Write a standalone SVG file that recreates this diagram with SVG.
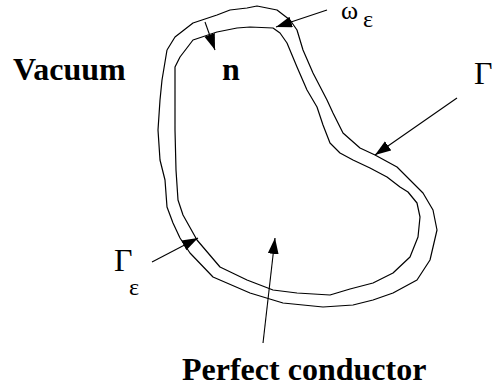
<svg xmlns="http://www.w3.org/2000/svg" width="492" height="388" viewBox="0 0 492 388">
<style>
.curve{fill:none;stroke:#000;stroke-width:1.2;stroke-linejoin:round}
.arr{fill:none;stroke:#000;stroke-width:1.1}
.b{font-family:"Liberation Serif","Times New Roman",serif;font-weight:bold;font-size:32px;fill:#000}
.r{font-family:"Liberation Serif","Times New Roman",serif;font-size:32px;fill:#000}
.s{font-family:"Liberation Serif","Times New Roman",serif;font-size:24px;fill:#000}
</style>
<defs>
<marker id="ah" markerUnits="userSpaceOnUse" markerWidth="17" markerHeight="12" refX="16" refY="5.5" orient="auto">
<path d="M0,0 L16,5.5 L0,11 z" fill="#000"/>
</marker>
</defs>
<rect width="492" height="388" fill="#fff"/>
<g id="body">
<polyline class="curve" points="167,50 162,80 160,100 158,130 160,160 165,180 167,207 173,223 180,238 190,253 213,277 250,293 283,303 323,307 353,305 373,300 393,293 417,280 430,260 437,230 433,210 423,193 410,180 397,167 375,155 360,148 343,133 333,113 327,100 313,73 303,50 297,30 290,20 277,10 257,6 247,8 230,10 217,15 193,23 175,37 167,50"/>
<polyline class="curve" points="175,100 175,67 180,57 193,40 217,32 237,28 250,27 273,28 280,33 287,43 297,67 307,90 317,107 323,125 330,143 340,153 353,160 370,168 387,177 400,187 408,192 417,203 420,217 418,237 410,257 393,273 373,283 350,289 330,295 297,293 273,290 247,280 220,267 197,240 183,215 178,200 176,170 175,130 175,100"/>
</g>
<g id="connectors">
<line class="arr" x1="205" y1="22" x2="215" y2="50" marker-end="url(#ah)"/>
<line class="arr" x1="327" y1="10" x2="276" y2="27" marker-end="url(#ah)"/>
<line class="arr" x1="457" y1="98" x2="375" y2="155" marker-end="url(#ah)"/>
<line class="arr" x1="152" y1="262" x2="198" y2="238" marker-end="url(#ah)"/>
<line class="arr" x1="263" y1="343" x2="275" y2="238" marker-end="url(#ah)"/>
</g>
<g id="vacuum"><text class="b" x="13" y="80">Vacuum</text></g>
<g id="normal"><text class="b" x="222" y="80">n</text></g>
<g id="omega"><text class="r" x="341" y="19" style="font-size:26px">ω</text><text class="s" x="363" y="27">ε</text></g>
<g id="gamma"><text class="r" x="474" y="84">Γ</text></g>
<g id="gamma-eps"><text class="r" x="114" y="271">Γ</text><text class="s" x="129" y="295">ε</text></g>
<g id="conductor"><text class="b" x="182" y="380">Perfect conductor</text></g>
</svg>
